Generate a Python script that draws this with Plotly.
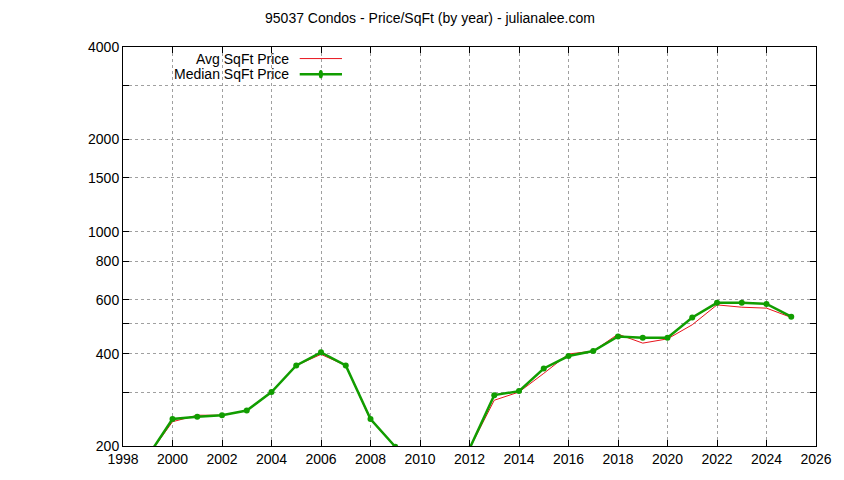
import plotly.graph_objects as go

years = list(range(1999, 2026))
avg_price = [185, 240, 252, 252, 261, 300, 366, 398, 366, 243, 199, 150, 150, 196,
             282, 300, 345, 399, 408, 463, 433, 447, 497, 577, 567, 563, 525]
median_price = [185, 245, 249, 252, 261, 300, 366, 404, 366, 245, 199, 150, 150, 196,
                293, 302, 358, 393, 408, 455, 451, 451, 525, 586, 586, 581, 528]

y_tickvals = [200, 400, 600, 800, 1000, 1500, 2000, 4000]
y_gridvals = [200, 300, 400, 500, 600, 800, 1000, 1500, 2000, 3000, 4000]

fig = go.Figure()
fig.add_trace(go.Scatter(x=years, y=avg_price, mode='lines', name='Avg SqFt Price',
                         line=dict(color='#e8141c', width=1)))
fig.add_trace(go.Scatter(x=years, y=median_price, mode='lines+markers', name='Median SqFt Price',
                         line=dict(color='#119d00', width=2.5),
                         marker=dict(color='#119d00', size=6)))

# gnuplot-style legend: right-aligned text with line sample on the right
for i, (label, col, w) in enumerate([('Avg SqFt Price', '#e8141c', 1),
                                     ('Median SqFt Price', '#119d00', 2.5)]):
    yy = 0.971 - i * 0.039
    fig.add_annotation(x=0.243, y=yy, xref='paper', yref='paper', text=label,
                       showarrow=False, xanchor='right', yanchor='middle',
                       font=dict(size=14, color='black'))
    fig.add_shape(type='line', xref='paper', yref='paper', x0=0.255, x1=0.316, y0=yy, y1=yy,
                  line=dict(color=col, width=w))
    if i == 1:
        fig.add_shape(type='circle', xref='paper', yref='paper', x0=0.2825, x1=0.2885,
                      y0=yy - 0.0105, y1=yy + 0.0105, fillcolor=col, line=dict(color=col, width=0))

fig.update_layout(
    width=844, height=480,
    margin=dict(l=115, r=36, t=39, b=42, autoexpand=False),
    paper_bgcolor='white', plot_bgcolor='white',
    showlegend=False,
    font=dict(family='Liberation Sans, Arial, sans-serif', size=14, color='black'),
    title=dict(text='95037 Condos - Price/SqFt (by year) - julianalee.com',
               x=0.5, y=0.99, xanchor='center', yanchor='top', font=dict(size=14)),
)
fig.update_xaxes(range=[1998, 2026], dtick=2, tick0=1998, showgrid=True,
                 gridcolor='#a0a0a0', griddash='dot', gridwidth=1,
                 showline=True, linecolor='black', mirror='ticks',
                 ticks='inside', ticklen=6, tickcolor='black', minor=dict(ticks='', showgrid=False),
                 zeroline=False)
fig.update_yaxes(type='log', range=[2.30103, 3.60206], tickvals=y_tickvals,
                 ticktext=[str(v) for v in y_tickvals], showgrid=False,
                 showline=True, linecolor='black', mirror='ticks',
                 ticks='inside', ticklen=6, tickcolor='black', zeroline=False,
                 minor=dict(tickvals=y_gridvals, showgrid=True, gridcolor='#a0a0a0',
                            griddash='dot', ticks='inside', ticklen=6, tickcolor='black'))

fig.write_html("out.html")
